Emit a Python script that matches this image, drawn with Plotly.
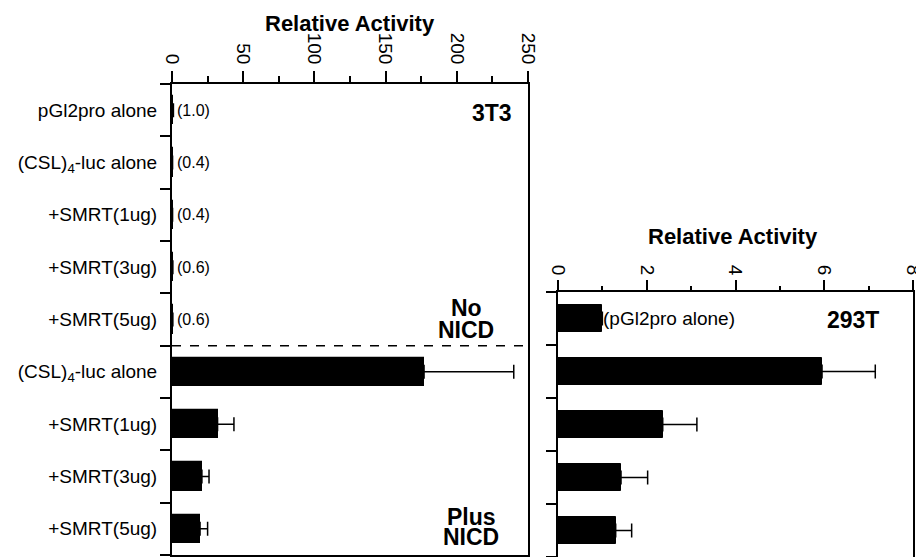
import plotly.graph_objects as go

# ---------------- data ----------------
left_categories = ["pGl2pro alone", "(CSL)<sub>4</sub>-luc alone", "+SMRT(1ug)", "+SMRT(3ug)",
                   "+SMRT(5ug)", "(CSL)<sub>4</sub>-luc alone", "+SMRT(1ug)", "+SMRT(3ug)", "+SMRT(5ug)"]
left_values = [1.0, 0.4, 0.4, 0.6, 0.6, 177, 32, 21, 19.7]
left_errors = [0, 0, 0, 0, 0, 63, 11.5, 5, 5.3]
left_ticks = [0, 50, 100, 150, 200, 250]

right_categories = ["pGl2pro alone", "(CSL)4-luc + NICD", "+SMRT(1ug)", "+SMRT(3ug)", "+SMRT(5ug)"]
right_values = [1.0, 5.95, 2.36, 1.42, 1.30]
right_errors = [0, 1.2, 0.77, 0.6, 0.36]
right_ticks = [0, 2, 4, 6, 8]

axis_title = "Relative Activity"

FONT = "Liberation Sans, Arial, Helvetica, sans-serif"
# the page body has an 8px margin, so the figure starts 8px into the window
OFF = 8
W, H = 924 - OFF, 557 - OFF


def px_x(p):  # window pixel -> paper x
    return (p - OFF) / W


def px_y(p):  # window pixel -> paper y
    return 1 - (p - OFF) / H


nL = len(left_categories)
nR = len(right_categories)
posL = [i + 0.5 for i in range(nL)]
posR = [i + 0.5 for i in range(nR)]

fig = go.Figure()

fig.add_trace(go.Bar(
    x=left_values, y=posL, orientation="h", width=0.54,
    marker=dict(color="black", line=dict(color="black", width=1.2)),
    error_x=dict(type="data", symmetric=False, array=left_errors,
                 arrayminus=[0] * nL, color="black", thickness=1.5, width=7),
    xaxis="x", yaxis="y", showlegend=False, hoverinfo="x"))

fig.add_trace(go.Bar(
    x=right_values, y=posR, orientation="h", width=0.52,
    marker=dict(color="black", line=dict(color="black", width=1)),
    error_x=dict(type="data", symmetric=False, array=right_errors,
                 arrayminus=[0] * nR, color="black", thickness=1.5, width=7),
    xaxis="x2", yaxis="y2", showlegend=False, hoverinfo="x"))

axis_common = dict(showline=True, linecolor="black", linewidth=2, mirror=True,
                   showgrid=False, zeroline=False, color="black", automargin=False)

fig.update_layout(
    width=W, height=H, margin=dict(l=0, r=0, t=0, b=0, autoexpand=False),
    paper_bgcolor="white", plot_bgcolor="white",
    font=dict(family=FONT, color="black"),
    bargap=0,
    xaxis=dict(domain=[px_x(172), px_x(528)], range=[0, 250], anchor="y", side="top",
               tickmode="array", tickvals=left_ticks, ticks="outside", ticklen=11,
               tickwidth=1.5, tickcolor="black", tickangle=90,
               tickfont=dict(size=19, family=FONT),
               minor=dict(dtick=25, ticks="outside", ticklen=6, tickwidth=1.5,
                          tickcolor="black"),
               **axis_common),
    yaxis=dict(domain=[px_y(555), px_y(84)], range=[nL, 0], anchor="x",
               tickmode="array", tickvals=posL, ticktext=left_categories, ticks="",
               tickfont=dict(size=19, family=FONT), ticklabelstandoff=9,
               minor=dict(tickmode="array", tickvals=list(range(nL + 1)), ticks="outside",
                          ticklen=10, tickwidth=1.5, tickcolor="black"),
               **axis_common),
    xaxis2=dict(domain=[px_x(558), px_x(913)], range=[0, 8], anchor="y2", side="top",
                tickmode="array", tickvals=right_ticks, ticks="outside", ticklen=10,
                tickwidth=1.5, tickcolor="black", tickangle=90,
                tickfont=dict(size=19, family=FONT), ticklabelstandoff=-2,
                minor=dict(dtick=1, ticks="outside", ticklen=4, tickwidth=1.5,
                           tickcolor="black"),
                **axis_common),
    yaxis2=dict(domain=[px_y(557), px_y(292)], range=[nR, 0], anchor="x2",
                tickmode="array", tickvals=posR, showticklabels=False, ticks="",
                minor=dict(tickmode="array", tickvals=list(range(nR + 1)), ticks="outside",
                           ticklen=10, tickwidth=1.5, tickcolor="black"),
                **axis_common),
)

# dashed separator between "No NICD" and "Plus NICD"
fig.add_shape(type="line", xref="x", yref="y", x0=0, x1=251, y0=5, y1=5,
              line=dict(color="black", width=1.5, dash="dash"))

annotations = []
# relative values for the No-NICD rows
for i in range(5):
    annotations.append(dict(x=left_values[i], y=posL[i], xref="x", yref="y",
                            text="(%.1f)" % left_values[i], showarrow=False,
                            xanchor="left", yanchor="middle", xshift=2,
                            font=dict(size=16, family=FONT)))
annotations.append(dict(x=right_values[0], y=posR[0], xref="x2", yref="y2",
                        text="(" + right_categories[0] + ")", showarrow=False,
                        xanchor="left", yanchor="middle", xshift=-1,
                        font=dict(size=19, family=FONT)))


def label(text, cx, cy, size, anchor="center"):
    return dict(x=px_x(cx), y=px_y(cy), xref="paper", yref="paper", text=text,
                showarrow=False, xanchor=anchor, yanchor="middle",
                font=dict(size=size, family=FONT))


# axis titles
annotations += [
    label("<b>%s</b>" % axis_title, 350, 23, 22),
    label("<b>%s</b>" % axis_title, 733, 236, 22),
]
# panel labels
annotations += [
    label("<b>3T3</b>", 514, 113, 23, "right"),
    label("<b>No</b>", 466, 308, 23),
    label("<b>NICD</b>", 466, 330, 23),
    label("<b>Plus</b>", 471, 517, 23),
    label("<b>NICD</b>", 471, 537, 23),
    label("<b>293T</b>", 881, 320, 23, "right"),
]
fig.update_layout(annotations=annotations)

fig.write_html("out.html")
